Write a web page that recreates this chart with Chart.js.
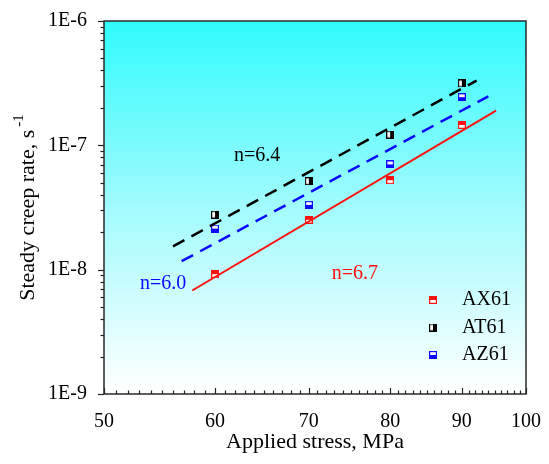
<!DOCTYPE html>
<html><head><meta charset="utf-8">
<script src="https://cdn.jsdelivr.net/npm/chart.js@4.4.0/dist/chart.umd.min.js"></script>
<style>html,body{margin:0;padding:0;background:#fff;}</style>
</head><body>
<canvas id="c" width="549" height="464" style="width:549px;height:464px;display:block"></canvas>
<script>
// ---- data ----
const stress = [60, 70, 80, 90];
const ax61 = [9.2e-9, 2.52e-8, 5.25e-8, 1.46e-7];
const at61 = [2.77e-8, 5.15e-8, 1.22e-7, 3.15e-7];
const az61 = [2.14e-8, 3.32e-8, 7.03e-8, 2.44e-7];
const fitAXx = [57.8, 95.2], fitAXy = [6.8e-9, 1.9e-7];
const fitATx = [56.0, 92.2], fitATy = [1.54e-8, 3.32e-7];
const fitAZx = [56.8, 94.0], fitAZy = [1.17e-8, 2.48e-7];
const xTicks = [50, 60, 70, 80, 90, 100];
const yTicks = [1e-9, 1e-8, 1e-7, 1e-6];
const yTickLabels = ['1E-9', '1E-8', '1E-7', '1E-6'];
const seriesNames = ['AX61', 'AT61', 'AZ61'];
const annText = ['n=6.4', 'n=6.7', 'n=6.0'];
const annX = [64.3, 75.5, 55.1];
const annY = [8.28e-8, 9.24e-9, 7.7e-9];
const xTitle = 'Applied stress, MPa';
const yTitle = 'Steady creep rate, s';
const yTitleSup = '-1';

const FONT = "'Liberation Serif', 'Times New Roman', serif";
const pts = (xs, ys) => xs.map((x, i) => ({x: x, y: ys[i]}));

function marker(color, half) {
  const s = 8, c = document.createElement('canvas');
  c.width = s; c.height = s;
  const g = c.getContext('2d');
  g.fillStyle = '#fff'; g.fillRect(0, 0, s, s);
  g.fillStyle = color;
  if (half === 'top') g.fillRect(0, 0, s, s / 2);
  if (half === 'bottom') g.fillRect(0, s / 2, s, s / 2);
  if (half === 'right') g.fillRect(s / 2, 0, s / 2, s);
  g.strokeStyle = color; g.lineWidth = 1.2;
  g.strokeRect(0.6, 0.6, s - 1.2, s - 1.2);
  return c;
}
const mAX = marker('#ff1010', 'top');
const mAT = marker('#000000', 'right');
const mAZ = marker('#0a0aff', 'bottom');
const markers = [mAX, mAT, mAZ];

const decor = {
  id: 'decor',
  beforeDraw(chart) {
    const {ctx, chartArea: a} = chart;
    const g = ctx.createLinearGradient(0, a.top, 0, a.bottom);
    g.addColorStop(0, '#30fbfd');
    g.addColorStop(0.5, '#a2fbfd');
    g.addColorStop(1, '#ffffff');
    ctx.save(); ctx.fillStyle = g;
    ctx.fillRect(a.left, a.top, a.right - a.left, a.bottom - a.top);
    ctx.restore();
  },
  afterDraw(chart) {
    const {ctx, chartArea: a, scales} = chart;
    const xs = scales.x, ys = scales.y;
    ctx.save();
    ctx.strokeStyle = '#222'; ctx.lineWidth = 1.2;
    // x ticks (inward)
    for (let v = 50; v <= 100; v++) {
      const px = Math.round(xs.getPixelForValue(v)) + 0.5;
      const len = (v % 10 === 0) ? 6 : 3.5;
      ctx.beginPath(); ctx.moveTo(px, a.bottom); ctx.lineTo(px, a.bottom - len); ctx.stroke();
    }
    // y ticks (outward)
    for (let d = 0; d < yTicks.length; d++) {
      for (let m = 1; m <= 9; m++) {
        const v = yTicks[d] * m;
        if (v > yTicks[yTicks.length - 1] * 1.0001) break;
        const py = Math.round(ys.getPixelForValue(v)) + 0.5;
        const len = (m === 1) ? 6 : 3.5;
        ctx.beginPath(); ctx.moveTo(a.left, py); ctx.lineTo(a.left - len, py); ctx.stroke();
      }
    }
    // frame
    ctx.lineWidth = 1.5; ctx.strokeStyle = '#2a2a2a';
    ctx.strokeRect(a.left, a.top, a.right - a.left, a.bottom - a.top);
    // annotations
    ctx.font = '20px ' + FONT; ctx.textAlign = 'center'; ctx.textBaseline = 'middle';
    const annCol = ['#000000', '#ff1010', '#0a0aff'];
    annText.forEach((t, i) => {
      ctx.fillStyle = annCol[i];
      ctx.fillText(t, xs.getPixelForValue(annX[i]), ys.getPixelForValue(annY[i]));
    });
    // legend
    ctx.fillStyle = '#000'; ctx.textAlign = 'left';
    seriesNames.forEach((n, i) => {
      const y = a.top + 279 + i * 27.5;
      ctx.drawImage(markers[i], a.left + 325, y - 4);
      ctx.fillStyle = '#000';
      ctx.fillText(n, a.left + 358, y);
    });
    // axis titles
    ctx.textAlign = 'center';
    ctx.font = '22px ' + FONT;
    ctx.fillText(xTitle, (a.left + a.right) / 2, 442);
    ctx.translate(28, (a.top + a.bottom) / 2);
    ctx.rotate(-Math.PI / 2);
    const w1 = ctx.measureText(yTitle).width;
    ctx.font = '15px ' + FONT;
    const w2 = ctx.measureText(yTitleSup).width;
    const x0 = -(w1 + w2 + 3) / 2;
    ctx.textAlign = 'left';
    ctx.font = '22px ' + FONT;
    ctx.fillText(yTitle, x0, 0);
    ctx.font = '15px ' + FONT;
    ctx.fillText(yTitleSup, x0 + w1 + 3, -9);
    ctx.restore();
  }
};

new Chart(document.getElementById('c'), {
  data: {
    datasets: [
      {type: 'line', data: pts(fitAXx, fitAXy), borderColor: '#ff1010', borderWidth: 2, pointRadius: 0, fill: false},
      {type: 'line', data: pts(fitATx, fitATy), borderColor: '#000', borderWidth: 2.5, borderDash: [13, 8], pointRadius: 0, fill: false},
      {type: 'line', data: pts(fitAZx, fitAZy), borderColor: '#0a0aff', borderWidth: 2.5, borderDash: [13, 8], pointRadius: 0, fill: false},
      {type: 'scatter', label: seriesNames[0], data: pts(stress, ax61), pointStyle: mAX},
      {type: 'scatter', label: seriesNames[1], data: pts(stress, at61), pointStyle: mAT},
      {type: 'scatter', label: seriesNames[2], data: pts(stress, az61), pointStyle: mAZ}
    ]
  },
  options: {
    responsive: false, animation: false, devicePixelRatio: 1,
    layout: {padding: {left: 0, right: 20, top: 16, bottom: 0}},
    plugins: {legend: {display: false}, tooltip: {enabled: false}},
    scales: {
      x: {
        type: 'logarithmic', min: 50, max: 100,
        grid: {display: false}, border: {display: false},
        afterBuildTicks: s => { s.ticks = xTicks.map(v => ({value: v})); },
        afterFit: s => { s.height = 70; },
        ticks: {autoSkip: false, maxRotation: 0, padding: 8, color: '#000',
          font: {family: FONT, size: 20}, callback: v => String(v)}
      },
      y: {
        type: 'logarithmic', min: 1e-9, max: 1e-6,
        grid: {display: false}, border: {display: false},
        afterBuildTicks: s => { s.ticks = yTicks.map(v => ({value: v})); },
        afterFit: s => { s.width = 104; },
        ticks: {autoSkip: false, padding: 9, color: '#000',
          font: {family: FONT, size: 20},
          callback: (v) => yTickLabels[yTicks.findIndex(t => Math.abs(t - v) / t < 1e-6)]}
      }
    }
  },
  plugins: [decor]
});
</script>
</body></html>
